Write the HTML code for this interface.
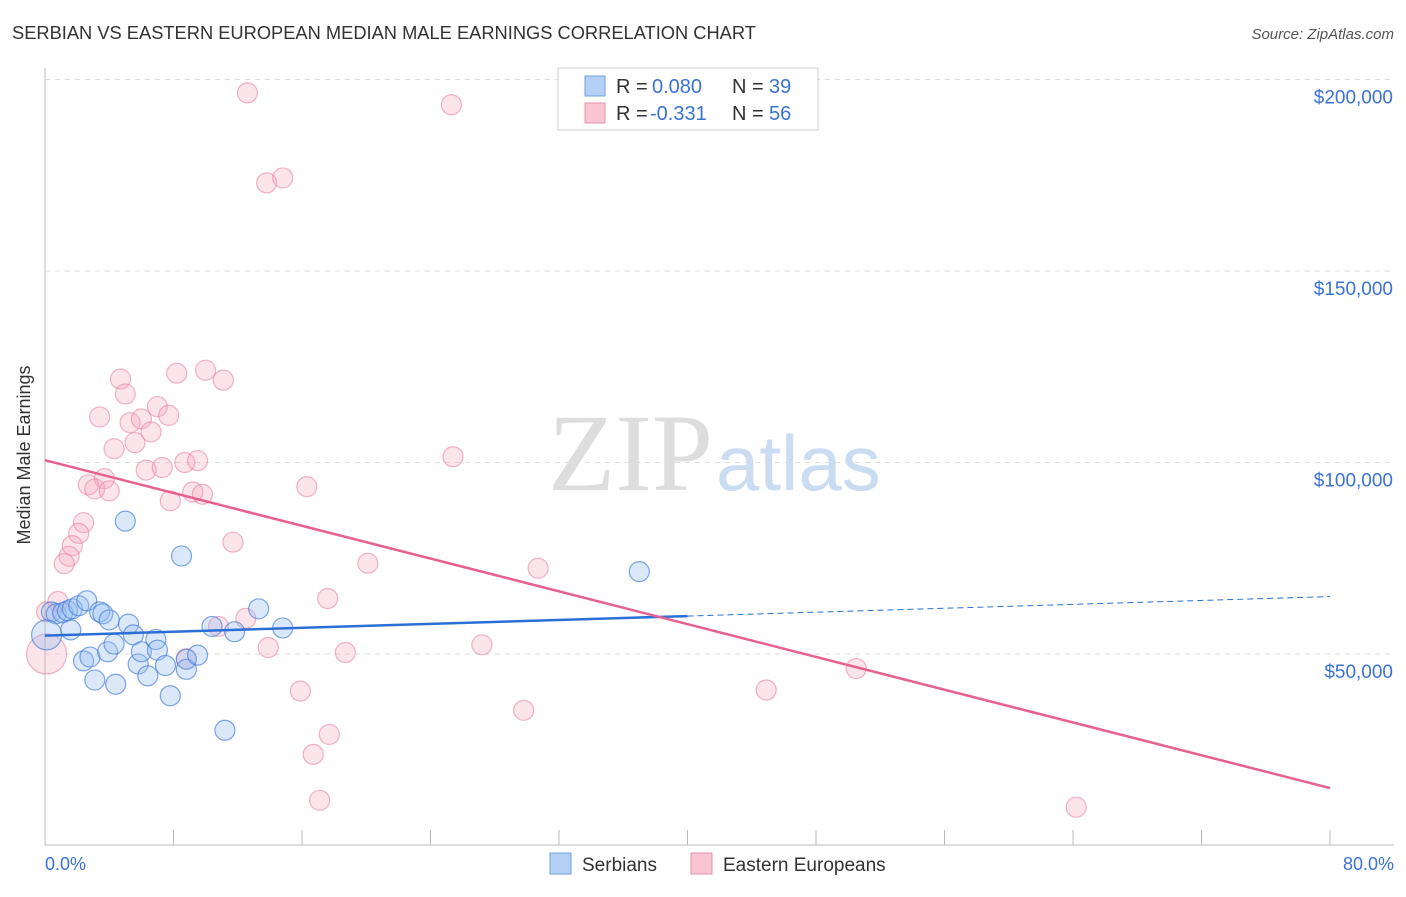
<!DOCTYPE html>
<html><head><meta charset="utf-8"><style>
body{margin:0;background:#fff;font-family:"Liberation Sans",sans-serif}
</style></head><body>
<svg width="1406" height="892" xmlns="http://www.w3.org/2000/svg" style="font-family:'Liberation Sans',sans-serif">
<text x="12" y="39" font-size="18.3" fill="#333">SERBIAN VS EASTERN EUROPEAN MEDIAN MALE EARNINGS CORRELATION CHART</text>
<text x="1394" y="39" font-size="15" fill="#555" font-style="italic" text-anchor="end">Source: ZipAtlas.com</text>
<g id="grid"></g>
<text x="713" y="490" font-size="110" fill="#ddd" text-anchor="end" font-family="Liberation Serif,serif">ZIP</text>
<text x="716" y="490" font-size="78" fill="#c9dcf2">atlas</text>
<g id="marks"></g>
<text x="30" y="455" font-size="18" fill="#333" text-anchor="middle" transform="rotate(-90 30 455)">Median Male Earnings</text>
<text x="45" y="870" font-size="18" fill="#3a72d8">0.0%</text>
<text x="1394" y="870" font-size="18" fill="#3a72d8" text-anchor="end">80.0%</text>
<g>
<rect x="558" y="68" width="260" height="62" fill="#fff" stroke="#ccc"/>
<rect x="585" y="76" width="20" height="20" fill="#b5d0f5" stroke="#6f9fe0"/>
<rect x="585" y="103" width="20" height="20" fill="#f9c5d5" stroke="#e890ab"/>
<text x="616" y="93" font-size="20" fill="#333">R =</text>
<text x="652" y="93" font-size="20" fill="#3a72d8">0.080</text>
<text x="732" y="93" font-size="20" fill="#333">N =</text>
<text x="769" y="93" font-size="20" fill="#3a72d8">39</text>
<text x="616" y="120" font-size="20" fill="#333">R =</text>
<text x="650" y="120" font-size="20" fill="#3a72d8">-0.331</text>
<text x="732" y="120" font-size="20" fill="#333">N =</text>
<text x="769" y="120" font-size="20" fill="#3a72d8">56</text>
</g>
<g>
<rect x="550" y="853" width="21" height="21" fill="#b5d0f5" stroke="#6f9fe0"/>
<text x="582" y="871" font-size="19" fill="#333">Serbians</text>
<rect x="691" y="853" width="21" height="21" fill="#f9c5d5" stroke="#e890ab"/>
<text x="723" y="871" font-size="19" fill="#333">Eastern Europeans</text>
</g>
</svg>
<script>
const yTicks=[50000,100000,150000,200000];
const yTickLabels=["$50,000","$100,000","$150,000","$200,000"];
const serbX=[0.4,0.7,1.1,1.4,1.6,1.7,2.1,2.6,2.4,2.8,3.1,3.4,3.6,3.9,4.0,4.4,4.3,5.0,5.2,5.5,5.8,6.0,6.4,6.9,7.0,7.5,7.8,8.5,8.8,8.8,9.5,10.4,11.2,11.8,13.3,14.8,37.0,0.1];
const serbY=[61000,60500,60800,61300,56300,61800,62600,63900,48200,49200,43200,61000,60500,50600,58900,42100,52600,84700,57800,55000,47400,50600,44300,53800,51000,47000,39100,75600,48600,46000,49700,57200,30100,55800,61800,56800,71500,55000];
const eeX=[12.6,25.3,13.8,14.8,4.7,5.0,3.4,4.3,5.3,5.6,6.0,6.6,7.0,7.7,8.2,10.0,11.1,8.7,9.5,6.3,7.3,3.7,2.7,3.1,4.0,7.8,9.2,9.8,16.3,25.4,2.4,2.1,1.7,1.5,1.2,11.7,20.1,30.7,0.8,17.6,12.5,10.8,13.9,18.7,27.2,8.8,50.5,15.9,44.9,29.8,17.7,16.7,17.1,64.2,0.1,0.1];
const eeY=[196500,193400,173000,174300,121800,117900,111900,103600,110400,105200,111400,108000,114600,112300,123300,124100,121500,100000,100500,98000,98700,95800,94200,93100,92600,90000,92300,91700,93700,101500,84300,81500,78300,75500,73600,79200,73700,72400,63700,64500,59300,57200,51700,50400,52400,48800,46200,40300,40600,35300,29000,23800,11800,10000,50000,61000];
const serbTrend=[0,54800,80,65000], serbSolidEnd=40;
const eeTrend=[0,100600,80,15000];
const X=p=>45+p/80*1285, Y=v=>845.5-v/50000*191.5;
const NS="http://www.w3.org/2000/svg";
const mk=(t,a,par)=>{const e=document.createElementNS(NS,t);for(const k in a)e.setAttribute(k,a[k]);document.getElementById(par).appendChild(e);return e;};
mk('line',{x1:45,y1:68,x2:45,y2:845,stroke:'#bbb'},'grid');
mk('line',{x1:45,y1:845,x2:1394,y2:845,stroke:'#bbb'},'grid');
for(let i=0;i<=10;i++){const l=mk('line',{x1:45+i*128.5,y1:830,x2:45+i*128.5,y2:845,stroke:'#bbb'},'grid');

}
yTicks.forEach((v,i)=>{const g=mk('line',{x1:45,x2:1394,y1:Y(v),y2:Y(v),stroke:'#ddd','stroke-dasharray':'5,5'},'grid');


const t=mk('text',{x:1393,y:Y(v)+24,'font-size':19,fill:'#3a72d8','text-anchor':'end'},'grid');t.textContent=yTickLabels[i];

});
eeX.forEach((x,i)=>{const r=(i>=54&&x<0.5&&eeY[i]==50000)?20:10;const c=mk('circle',{cx:X(x),cy:Y(eeY[i]),r:r,fill:'rgba(245,165,190,0.3)',stroke:'rgba(232,130,160,0.6)','stroke-width':1.2},'marks');

});
serbX.forEach((x,i)=>{const r=(i==serbX.length-1)?15:10;const c=mk('circle',{cx:X(x),cy:Y(serbY[i]),r:r,fill:'rgba(150,190,240,0.35)',stroke:'rgba(60,120,215,0.65)','stroke-width':1.2},'marks');

});
const sy=p=>serbTrend[1]+(serbTrend[3]-serbTrend[1])*p/80;
let l1=mk('line',{x1:X(0),y1:Y(sy(0)),x2:X(serbSolidEnd),y2:Y(sy(serbSolidEnd)),stroke:'#2a6fd6','stroke-width':2.5},'marks');


let l2=mk('line',{x1:X(serbSolidEnd),y1:Y(sy(serbSolidEnd)),x2:X(80),y2:Y(sy(80)),stroke:'#2a6fd6','stroke-width':1,'stroke-dasharray':'6,4'},'marks');


let l3=mk('line',{x1:X(eeTrend[0]),y1:Y(eeTrend[1]),x2:X(eeTrend[2]),y2:Y(eeTrend[3]),stroke:'#e8608f','stroke-width':2.5},'marks');


</script>
</body></html>
